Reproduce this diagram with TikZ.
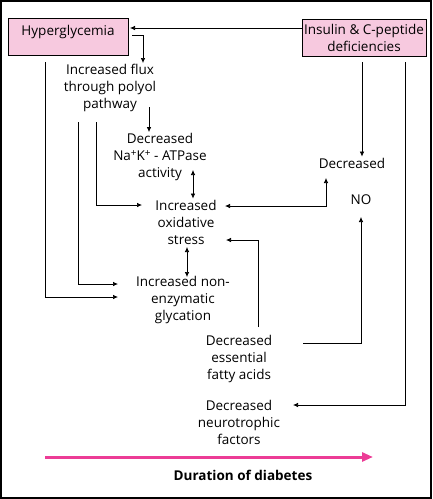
\documentclass[tikz,border=0pt]{standalone}
\usepackage{fontspec}
\setmainfont{Open Sans}
\usetikzlibrary{arrows.meta,positioning}
\definecolor{causepink}{HTML}{F7C9DF}
\definecolor{timepink}{HTML}{EC3C96}
\newcommand{\ionplus}{\raisebox{0.5ex}{\fontsize{10}{10}\selectfont+}}

\begin{document}
\begin{tikzpicture}[
    x=1pt, y=-1pt,
    txt/.style={align=center, font=\fontsize{13.5}{17}\selectfont, inner sep=1pt},
    cause/.style={txt, draw, thin, fill=causepink, minimum width=120pt},
    link/.style={-{Latex[length=5pt,width=4.5pt]}, line width=0.7pt},
    both/.style={{Latex[length=5pt,width=4.5pt]}-{Latex[length=5pt,width=4.5pt]}, line width=0.7pt}
]
\useasboundingbox (0,0) rectangle (432,499);
\draw[line width=1.2pt] (1,1) rectangle (431,498);

% Causes
\node[cause, text height=16pt, text depth=19pt] (hyper) at (68,36.5) {Hyperglycemia};
\node[cause, minimum width=124pt, minimum height=37pt] (insulin) at (364,37.5) {Insulin \& C-peptide\\deficiencies};

% Consequences
\node[txt] (flux) at (110,88) {Increased flux\\through polyol\\pathway};
\node[txt] (atpase) at (160,157) {Decreased\\Na\ionplus K\ionplus\ - ATPase\\activity};
\node[txt] (stress) at (186,222) {Increased\\oxidative\\stress};
\node[txt] (glyc) at (183,300) {Increased non-\\enzymatic\\glycation};
\node[txt] (decr) at (352,163) {Decreased};
\node[txt] (no) at (361,200) {NO};
\node[txt] (efa) at (239,359) {Decreased\\essential\\fatty acids};
\node[txt] (ntf) at (239,422) {Decreased\\neurotrophic\\factors};

% Time axis
\draw[timepink, line width=3pt, -{Triangle[length=11pt,width=9pt]}] (45,457) -- (373,457);
\node[txt, font=\fontsize{13.5}{17}\selectfont\bfseries] (dur) at (243,475) {Duration of diabetes};

% Links from hyperglycemia
\draw[link] (insulin.west |- 0,28) -- (130,28);
\draw[link] (132,35) -| (flux.north -| 143,0);
\draw[link] (149,107) -- (atpase.north -| 149,0);
\draw[both] (193,170) -- (stress.north -| 193,0);
\draw[link] (96,122) |- (142,205);
\draw[link] (78,122) |- (118,284);
\draw[link] (hyper.south -| 45,0) ++(0,7) |- (118,297);
\draw[both] (187,247) -- (187,277);

% Links from insulin deficiency
\draw[link] (insulin.south -| 362,0) ++(0,6) -- (decr.north -| 362,0);
\draw[both] (326,178) |- (225,206);
\draw[link] (303,343) -| (361,217);
\draw[link] (258,327) |- (226,240);
\draw[link] (insulin.south -| 405,0) ++(0,6) |- (293,405);

\end{tikzpicture}
\end{document}
